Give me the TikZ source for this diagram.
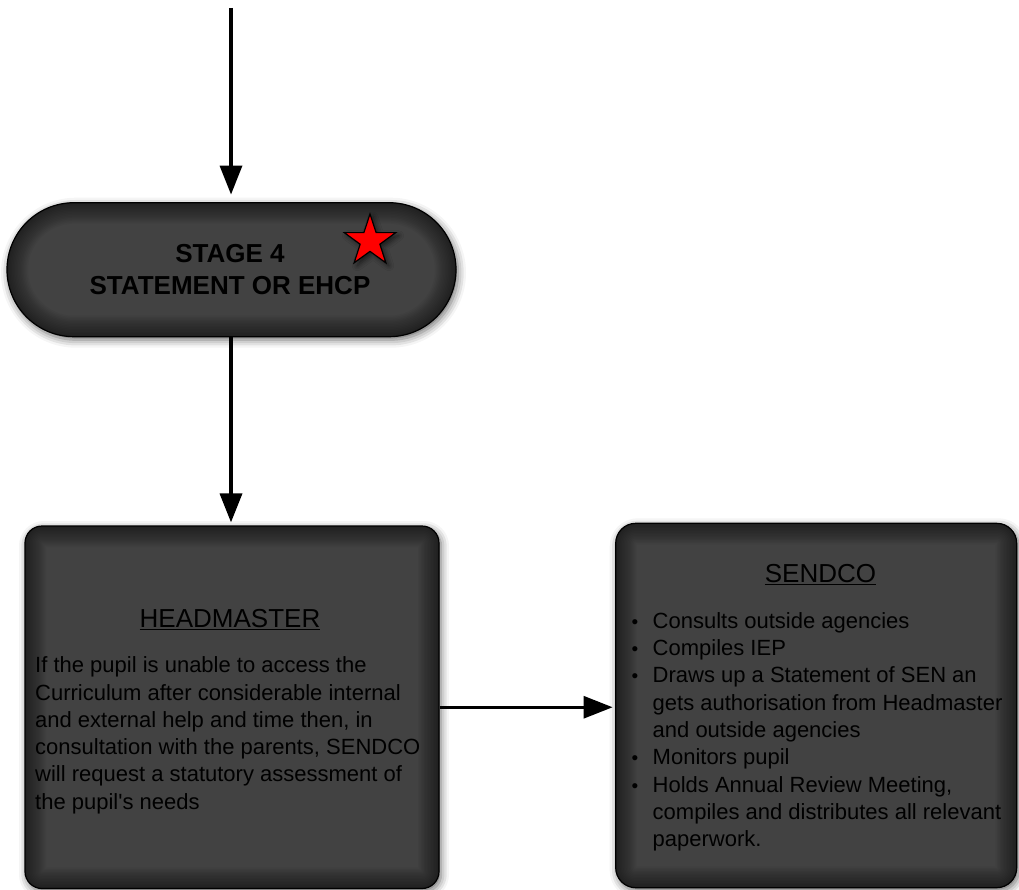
\documentclass[tikz,border=0pt]{standalone}
\usepackage{fontspec}
\setmainfont{Liberation Sans}[Ligatures=TeXOff]
\usetikzlibrary{arrows.meta,shadows.blur,shapes.geometric}
\definecolor{boxfill}{RGB}{66,66,66}
\tikzset{
  box/.style={draw=black, line width=1.2pt, fill=boxfill, rounded corners=#1, inner sep=0pt,
    blur shadow={shadow xshift=2pt, shadow yshift=-3pt, shadow blur radius=8pt, shadow opacity=60},
    path picture={\foreach \w in {3,6,...,42}{\draw[line width=\w pt, black, opacity=0.04, rounded corners=#1, xshift=2pt, yshift=-5pt] (path picture bounding box.north west) rectangle (path picture bounding box.south east);}}},
  arr/.style={line width=3.5pt, -{Triangle[length=29pt, width=22pt]}},
  txt/.style={inner sep=0pt, text=black},
  title/.style={txt, anchor=base, font=\fontsize{26}{30}\selectfont},
  body/.style={txt, anchor=base west, font=\fontsize{22}{27.3}\selectfont},
}
\newcommand{\bul}{\llap{\makebox[21pt][l]{\fontsize{19}{19}\selectfont\char"2022}}}
\begin{document}
\begin{tikzpicture}[x=1pt,y=-1pt]
\useasboundingbox (0,0) rectangle (1019,890);
% shapes
\node[box=67pt, minimum width=449pt, minimum height=134pt] (stage) at (231.5,269.7) {};
\node[box=17pt, minimum width=414pt, minimum height=362.5pt] (head) at (232,707.25) {};
\node[box=20pt, minimum width=401pt, minimum height=364.4pt] (sendco) at (816.2,705.5) {};
\node[star, star points=5, star point ratio=2.6, fill=red, draw=black, line width=1.2pt, minimum size=54pt, inner sep=0pt,
  blur shadow={shadow xshift=3pt, shadow yshift=-3pt, shadow blur radius=5pt, shadow opacity=60}] (star) at (370,241) {};
% texts
\node[txt, anchor=base, font=\fontsize{26}{31.6}\selectfont\bfseries] (stagetxt) at (230,262.7)
  {\begin{tabular}[t]{@{}c@{}}STAGE 4\\STATEMENT OR EHCP\end{tabular}};
\node[title] (htitle) at (230,627.3) {\underline{HEADMASTER}};
\node[body] (hbody) at (35,672.7) {\begin{tabular}[t]{@{}l@{}}
If the pupil is unable to access the\\
Curriculum after considerable internal\\
and external help and time then, in\\
consultation with the parents, SENDCO\\
will request a statutory assessment of\\
the pupil's needs\end{tabular}};
\node[title] (stitle) at (820.5,582.7) {\underline{SENDCO}};
\node[body] (sbody) at (652.5,628.3) {\begin{tabular}[t]{@{}l@{}}
\bul Consults outside agencies\\
\bul Compiles IEP\\
\bul Draws up a Statement of SEN an\\
gets authorisation from Headmaster\\
and outside agencies\\
\bul Monitors pupil\\
\bul Holds Annual Review Meeting,\\
compiles and distributes all relevant\\
paperwork.\end{tabular}};
% connectors
\coordinate (start) at (231,8);
\draw[arr] (start) -- (start |- stage.north) [shorten >=7.5pt];
\draw[arr, shorten >=3pt] (stage.south -| start) -- (start |- head.north);
\draw[arr, line width=3pt, shorten >=2.5pt] (head.east) -- (head.east -| sendco.west);
\end{tikzpicture}
\end{document}
